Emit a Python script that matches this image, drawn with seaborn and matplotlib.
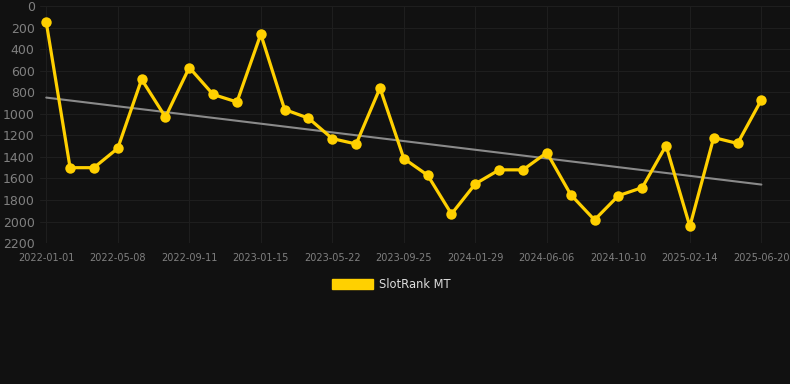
"""
SlotRank MT history chart: rank over time with a linear trend line.
"""
import matplotlib
matplotlib.use('Agg')
import matplotlib.pyplot as plt
from matplotlib.patches import Patch
import numpy as np
import pandas as pd
import seaborn as sns

# one point roughly every six weeks, tick labels on every third point
tick_labels = ['2022-01-01', '2022-05-08', '2022-09-11', '2023-01-15',
               '2023-05-22', '2023-09-25', '2024-01-29', '2024-06-06',
               '2024-10-10', '2025-02-14', '2025-06-20']
rank = [150, 1500, 1500, 1320, 680, 1030, 570, 820, 890, 260,
        960, 1040, 1230, 1280, 760, 1415, 1570, 1930, 1650, 1520,
        1520, 1360, 1750, 1985, 1760, 1685, 1295, 2045, 1220, 1275,
        870]
series_name = 'SlotRank MT'

BG = '#111111'
GRID = '#1e1e1e'
YELLOW = '#FFD000'
TREND = '#8a8a8a'
TICK = '#808080'

df = pd.DataFrame({'step': np.arange(len(rank)), 'rank': rank})
slope, intercept = np.polyfit(df['step'], df['rank'], 1)
df['trend'] = intercept + slope * df['step']

sns.set_style('dark')
fig = plt.figure(figsize=(7.9, 3.84), dpi=100, facecolor=BG)
ax = fig.add_axes([0.051, 0.367, 0.949, 0.617])
ax.set_facecolor(BG)

sns.lineplot(data=df, x='step', y='trend', ax=ax, color=TREND, linewidth=1.5)
sns.lineplot(data=df, x='step', y='rank', ax=ax, color=YELLOW, linewidth=2.3,
             marker='o', markersize=7.5, markeredgewidth=0, markerfacecolor=YELLOW)

ax.set_ylim(2200, 0)
ax.set_yticks(np.arange(0, 2201, 200))
ax.set_xlim(-0.25, 31.2)
ax.set_xticks(df['step'][::3])
ax.set_xticklabels(tick_labels)

ax.grid(True, color=GRID, linewidth=0.8)
ax.tick_params(axis='y', colors=TICK, labelsize=9, length=0, pad=4)
ax.tick_params(axis='x', colors=TICK, labelsize=7, length=4, color=GRID, pad=3)
for spine in ax.spines.values():
    spine.set_visible(False)
ax.set_xlabel('')
ax.set_ylabel('')

fig.legend(handles=[Patch(facecolor=YELLOW, edgecolor=YELLOW, label=series_name)],
           loc='center', bbox_to_anchor=(0.495, 0.259), frameon=False,
           handlelength=3.6, handleheight=1.0, handletextpad=0.5,
           fontsize=8.3, labelcolor='#dddddd')

fig.savefig('out.png', dpi=100, facecolor=BG)
